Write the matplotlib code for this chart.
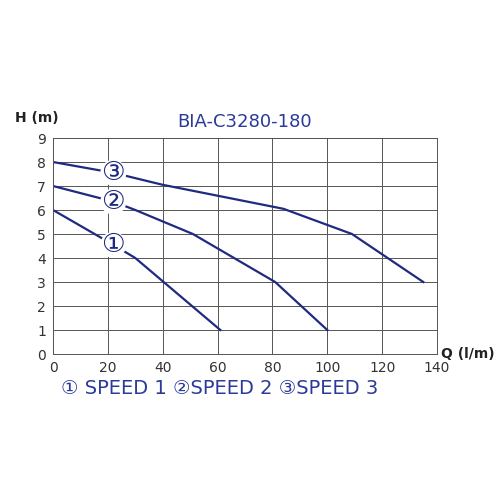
import matplotlib
matplotlib.use("Agg")
import matplotlib.pyplot as plt

q1 = [0, 22, 30, 61]
h1 = [6, 4.55, 4, 1]
q2 = [0, 22, 30, 51, 81, 100]
h2 = [7, 6.35, 6, 5, 3, 1]
q3 = [0, 22, 40, 84, 109, 135]
h3 = [8, 7.55, 7.05, 6.05, 5, 3]
labels = ["①", "②", "③"]
label_pos = [(22, 4.55), (22, 6.35), (22, 7.55)]

plt.rcParams['font.family'] = ['DejaVu Sans']
fig = plt.figure(figsize=(5, 5), dpi=100)
ax = fig.add_axes([0.106, 0.292, 0.768, 0.432])
lc = "#1f2a80"
for q, h in [(q1, h1), (q2, h2), (q3, h3)]:
    ax.plot(q, h, color=lc, lw=1.6)
for lab, (x, y) in zip(labels, label_pos):
    ax.text(x, y, lab, ha='center', va='center', fontsize=19, color=lc,
            bbox=dict(boxstyle='circle,pad=0.0', fc='white', ec='none'))
ax.set_xlim(0, 140)
ax.set_ylim(0, 9)
ax.set_xticks(range(0, 141, 20))
ax.set_yticks(range(0, 10))
ax.grid(True, color='#555555', lw=0.7)
for s in ax.spines.values():
    s.set_color('#555555'); s.set_linewidth(0.7)
ax.tick_params(length=0, labelsize=10, colors='#333333', pad=5)
ax.set_title("BIA-C3280-180", color="#2b3a9a", fontsize=13, pad=8)
fig.text(0.03, 0.755, "H (m)", fontsize=10, fontweight='bold', color='#222222')
fig.text(0.882, 0.285, "Q (l/m)", fontsize=10, fontweight='bold', color='#222222')
fig.text(0.44, 0.213, "① SPEED 1 ②SPEED 2 ③SPEED 3", ha='center', fontsize=14, color="#2b3a9a")
fig.savefig("out.png", dpi=100)
